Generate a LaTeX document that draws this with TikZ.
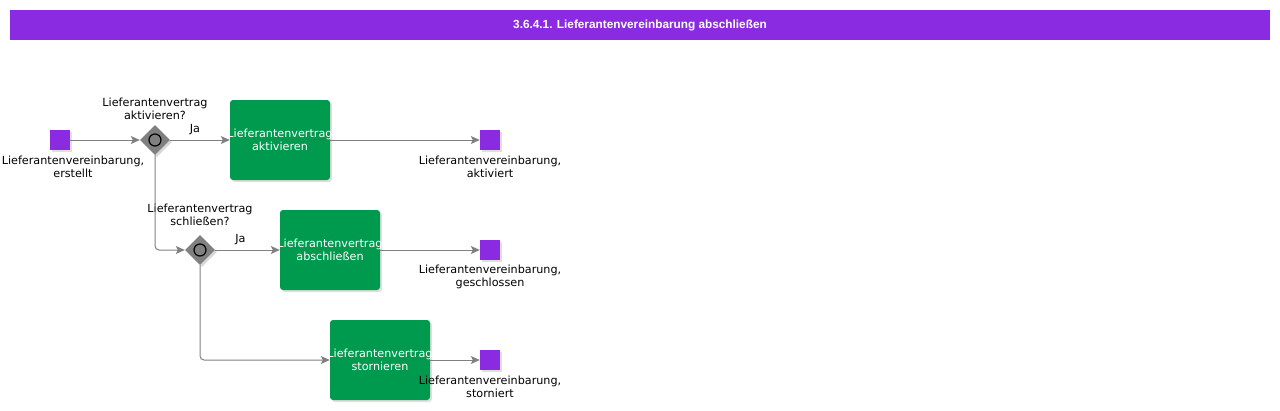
\documentclass[tikz,border=0pt]{standalone}
\usepackage{fontspec}
\setmainfont{DejaVu Sans}
\newfontfamily\titlefont{Liberation Sans}
\usetikzlibrary{arrows.meta,shadows,shapes.geometric}
\definecolor{hdr}{HTML}{8A2BE2}
\definecolor{taskg}{HTML}{009A4E}
\definecolor{ev}{HTML}{8A2BE2}
\definecolor{gw}{HTML}{808080}
\definecolor{ln}{HTML}{808080}
\tikzset{
  x=1pt,y=-1pt,
  lbl/.style={font=\fontsize{11.2}{12.8}\selectfont,align=center,text=black,inner sep=0},
  tasktxt/.style={font=\fontsize{11.2}{12.8}\selectfont,align=center,text=white,inner sep=0},
  evbox/.style={draw=none,fill=ev,minimum size=20pt,inner sep=0,drop shadow={shadow xshift=1.5pt,shadow yshift=-1.5pt,opacity=0.25}},
  taskbox/.style={fill=taskg,rounded corners=3pt,minimum width=100pt,minimum height=80pt,inner sep=0,
     drop shadow={shadow xshift=2pt,shadow yshift=-2pt,opacity=0.25}},
  gwbox/.style={diamond,fill=gw,minimum width=30pt,minimum height=30pt,inner sep=0,
     drop shadow={shadow xshift=2pt,shadow yshift=-2pt,opacity=0.3}},
  gwring/.style={draw=black,line width=1.2pt,circle,minimum size=12pt,inner sep=0},
  flow/.style={draw=ln,line width=1pt,-{Stealth[length=9pt,width=8pt,inset=2pt]},rounded corners=4pt},
}
\begin{document}
\begin{tikzpicture}
\useasboundingbox (0,0) rectangle (1280,410);
\fill[white] (0,0) rectangle (1280,410);
\node[fill=hdr,minimum width=1260pt,minimum height=30pt,inner sep=0,anchor=north west] (hdr) at (10,10) {};
\node[text=white,font=\titlefont\bfseries\fontsize{11.8}{13}\selectfont] (title) at (640,25) {3.6.4.1. Lieferantenvereinbarung abschließen};

% start
\node[evbox] (s) at (60,140) {};
\node[lbl] (sl) at (73,167) {Lieferantenvereinbarung,\\erstellt};

% gateway 1
\node[gwbox] (g1) at (155,140) {};
\node[gwring] (g1c) at (g1) {};
\node[lbl] (g1l) at (155,108.5) {Lieferantenvertrag\\aktivieren?};

% task 1
\node[taskbox] (t1) at (280,140) {};
\node[tasktxt] (t1t) at (t1) {Lieferantenvertrag\\aktivieren};
\node[evbox] (e1) at (490,140) {};
\node[lbl] (e1l) at (490,167) {Lieferantenvereinbarung,\\aktiviert};

% gateway 2
\node[gwbox] (g2) at (200,250) {};
\node[gwring] (g2c) at (g2) {};
\node[lbl] (g2l) at (200,215) {Lieferantenvertrag\\schließen?};

% task 2
\node[taskbox] (t2) at (330,250) {};
\node[tasktxt] (t2t) at (t2) {Lieferantenvertrag\\abschließen};
\node[evbox] (e2) at (490,250) {};
\node[lbl] (e2l) at (490,277) {Lieferantenvereinbarung,\\geschlossen};

% task 3
\node[taskbox] (t3) at (380,360) {};
\node[tasktxt] (t3t) at (t3) {Lieferantenvertrag\\stornieren};
\node[evbox] (e3) at (490,360) {};
\node[lbl] (e3l) at (490,387) {Lieferantenvereinbarung,\\storniert};

% flows
\draw[flow] (s) -- (g1);
\draw[flow] (g1) -- node[lbl,above=5pt,xshift=-5pt] (ja1) {Ja} (t1);
\draw[flow] (t1) -- (e1);
\draw[flow] (g1.south) |- (g2.west);
\draw[flow] (g2) -- node[lbl,above=5pt,xshift=-7pt] (ja2) {Ja} (t2);
\draw[flow] (t2) -- (e2);
\draw[flow] (g2.south) |- (t3.west);
\draw[flow] (t3) -- (e3);
\end{tikzpicture}
\end{document}
